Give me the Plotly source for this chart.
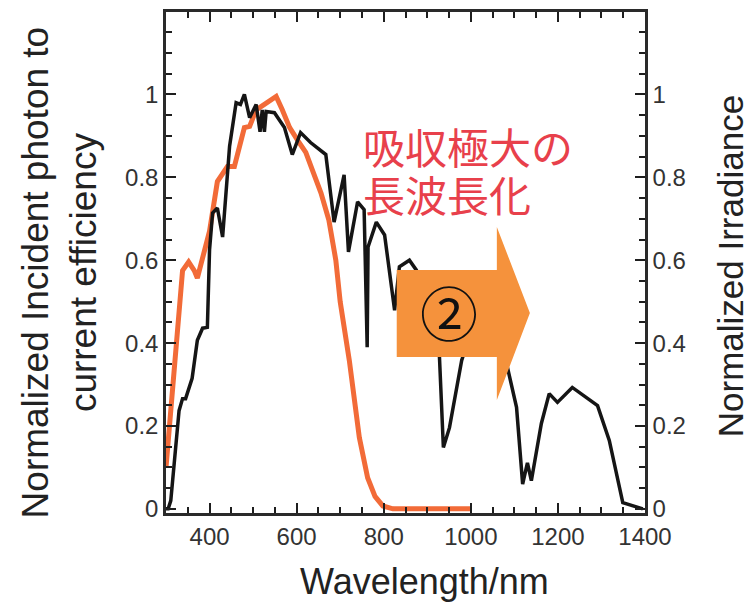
import plotly.graph_objects as go

# ---- data ----
ipce_wavelength = [300, 315, 328, 338, 352, 365, 372, 385, 400, 418, 441, 457, 469, 480,
                   492, 507, 526, 553, 567, 584, 602, 621, 636, 656, 674, 690, 700, 721,
                   744, 763, 780, 798, 821, 1000]
ipce_value = [0.10, 0.30, 0.45, 0.575, 0.596, 0.575, 0.557, 0.61, 0.67, 0.79, 0.826, 0.826,
              0.875, 0.92, 0.923, 0.963, 0.976, 0.995, 0.963, 0.92, 0.89, 0.86, 0.818, 0.762,
              0.697, 0.60, 0.50, 0.358, 0.172, 0.075, 0.03, 0.007, 0.0, 0.0]

irr_wavelength = [300, 305, 311, 330, 338, 345, 360, 372, 384, 395, 400, 407, 418, 430, 446,
                  461, 471, 480, 492, 507, 516, 521, 526, 530, 549, 572, 590, 609, 632, 667,
                  686, 709, 719, 740, 755, 762, 764, 783, 802, 825, 836, 859, 875, 900, 928,
                  937, 951, 979, 1010, 1050, 1082, 1105, 1119, 1130, 1139, 1162, 1180, 1199,
                  1233, 1291, 1318, 1349, 1395]
irr_value = [0.0, 0.0, 0.02, 0.237, 0.266, 0.266, 0.315, 0.407, 0.436, 0.438, 0.625, 0.714,
             0.726, 0.656, 0.875, 0.98, 0.976, 1.0, 0.944, 0.976, 0.91, 0.963, 0.91, 0.959,
             0.956, 0.92, 0.855, 0.908, 0.884, 0.855, 0.692, 0.806, 0.62, 0.741, 0.722, 0.39,
             0.632, 0.692, 0.661, 0.479, 0.584, 0.60, 0.576, 0.50, 0.366, 0.148, 0.196, 0.358,
             0.46, 0.42, 0.351, 0.245, 0.06, 0.111, 0.068, 0.206, 0.278, 0.257, 0.293, 0.249,
             0.165, 0.015, 0.0]

x_tick_start, x_tick_step = 400, 200
y_tick_start, y_tick_step = 0, 0.2

LATIN = "Liberation Sans, Arial, sans-serif"
CJK = "Noto Sans CJK JP"
AXC = "#1e1e1e"

fig = go.Figure()
fig.add_trace(go.Scatter(x=ipce_wavelength, y=ipce_value, mode="lines",
                         line=dict(color="#F26B38", width=5), showlegend=False))
fig.add_trace(go.Scatter(x=irr_wavelength, y=irr_value, mode="lines", yaxis="y2",
                         line=dict(color="#151515", width=3.5), showlegend=False))
# invisible trace so the mirrored top axis is drawn
fig.add_trace(go.Scatter(x=[irr_wavelength[0]], y=[irr_value[0]], xaxis="x2", yaxis="y2",
                         mode="markers", marker=dict(opacity=0), showlegend=False,
                         hoverinfo="skip"))

tickfont = dict(family=LATIN, size=24, color="#333333")
yr = [-0.01, 1.199]
xr = [300, 1400]

def minor(dt):
    return dict(dtick=dt, ticks="inside", ticklen=6, tickwidth=2, tickcolor=AXC)

fig.update_layout(
    template="simple_white",
    width=747, height=606, autosize=False,
    margin=dict(l=166, r=102, t=12, b=93),
    xaxis=dict(range=xr, tickmode="linear", tick0=x_tick_start, dtick=x_tick_step,
               ticks="inside", ticklen=10, tickwidth=2, tickcolor=AXC,
               showline=True, linecolor="#2a2a2a", linewidth=2.5,
               tickfont=tickfont, minor=minor(50)),
    xaxis2=dict(range=xr, overlaying="x", side="top", anchor="y", tickmode="linear",
                tick0=x_tick_start, dtick=x_tick_step, showticklabels=False,
                ticks="inside", ticklen=10, tickwidth=2, tickcolor=AXC,
                showline=True, linecolor="#2a2a2a", linewidth=2.5, minor=minor(50)),
    yaxis=dict(range=yr, tickmode="linear", tick0=y_tick_start, dtick=y_tick_step,
               ticks="inside", ticklen=10, tickwidth=2, tickcolor=AXC,
               showline=True, linecolor="#2a2a2a", linewidth=2.5,
               tickfont=tickfont, minor=minor(0.05)),
    yaxis2=dict(range=yr, overlaying="y", side="right", anchor="x", tickmode="linear",
                tick0=y_tick_start, dtick=y_tick_step,
                ticks="inside", ticklen=10, tickwidth=2, tickcolor=AXC,
                showline=True, linecolor="#2a2a2a", linewidth=2.5,
                tickfont=tickfont, minor=minor(0.05)),
)

# orange arrow (drawn above the traces)
fig.add_shape(type="path", xref="paper", yref="paper", layer="above", opacity=1,
              path="M 0.4817 0.485 L 0.6907 0.485 L 0.6907 0.5709 L 0.7597 0.3992 "
                   "L 0.6907 0.2255 L 0.6907 0.3114 L 0.4817 0.3114 Z",
              fillcolor="#F5923C", line=dict(width=0))

ann = []
ann.append(dict(text="Normalized Incident photon to<br>current efficiency", x=-0.2226, y=0.481,
                xref="paper", yref="paper", textangle=-90, showarrow=False,
                xanchor="center", yanchor="middle", align="center",
                font=dict(family=LATIN, size=37, color="#222222")))
ann.append(dict(text="Normalized Irradiance", x=1.178, y=0.493, xref="paper", yref="paper",
                textangle=-90, showarrow=False, xanchor="center", yanchor="middle",
                font=dict(family=LATIN, size=35, color="#222222")))
ann.append(dict(text="Wavelength/nm", x=0.540, y=-0.1377, xref="paper", yref="paper",
                showarrow=False, xanchor="center", yanchor="middle",
                font=dict(family=LATIN, size=36, color="#222222")))
ann.append(dict(text="吸収極大の", x=0.4066, y=0.7345, xref="paper", yref="paper",
                showarrow=False, xanchor="left", yanchor="middle",
                font=dict(family=CJK, size=42, color="#E8404B")))
ann.append(dict(text="長波長化", x=0.4066, y=0.6387, xref="paper", yref="paper",
                showarrow=False, xanchor="left", yanchor="middle",
                font=dict(family=CJK, size=42, color="#E8404B")))
ann.append(dict(text="②", x=0.5904, y=0.4032, xref="paper", yref="paper",
                showarrow=False, xanchor="center", yanchor="middle",
                font=dict(family=CJK, size=58, color="#111111")))
fig.update_layout(annotations=ann)

fig.write_html("out.html")
